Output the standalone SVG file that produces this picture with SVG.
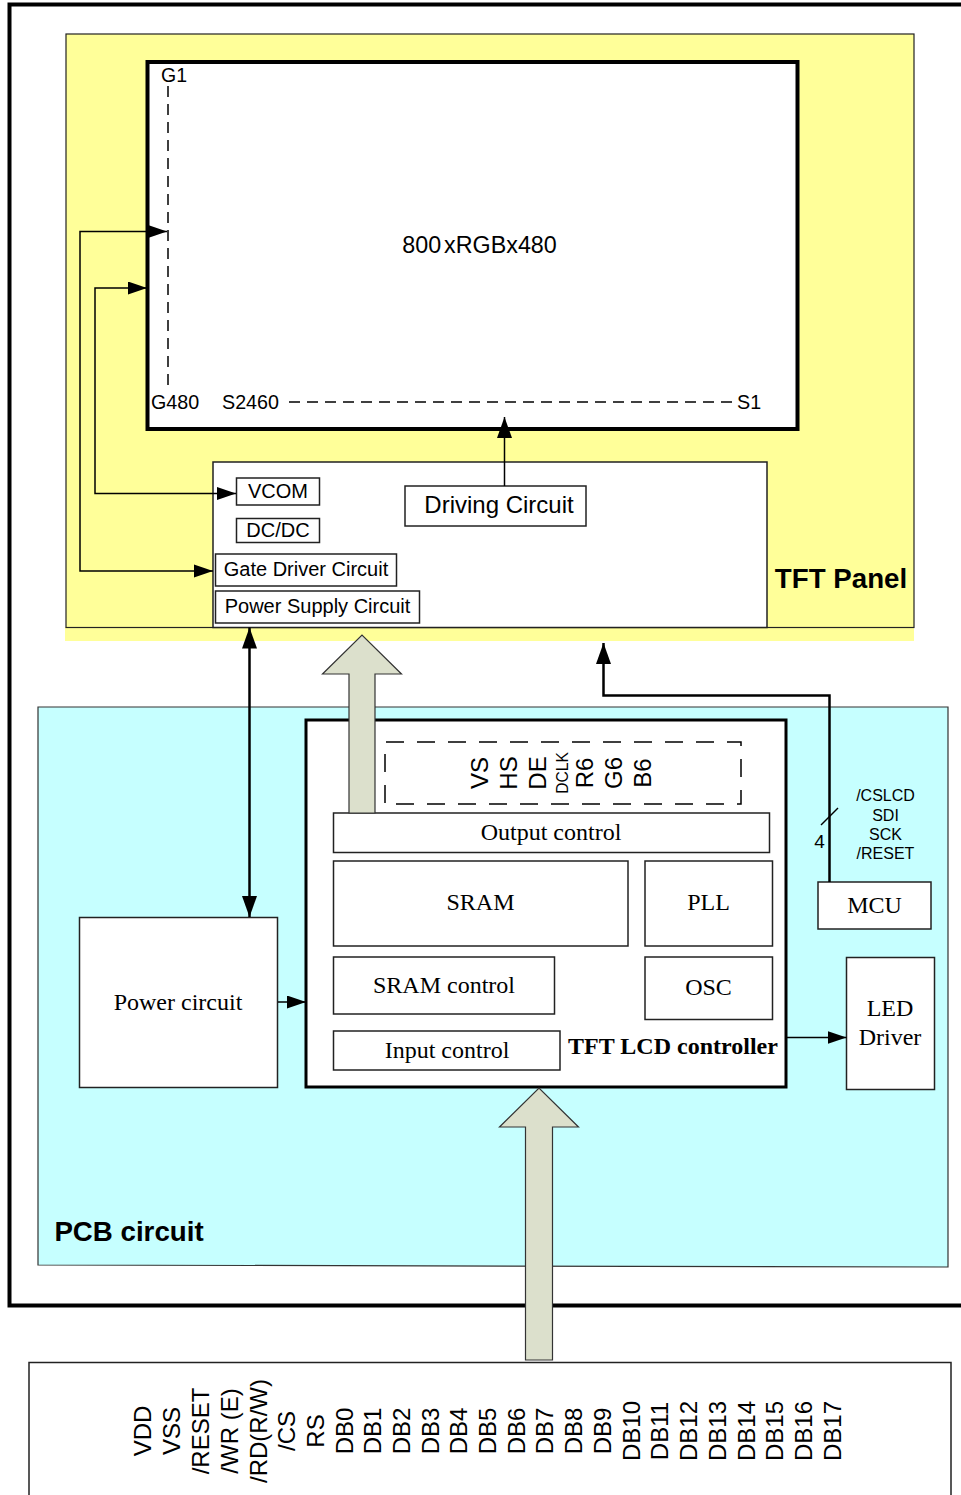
<svg xmlns="http://www.w3.org/2000/svg" width="961" height="1495" viewBox="0 0 961 1495">
<style>
.a{font-family:"Liberation Sans",Arial,sans-serif;fill:#000}
.t{font-family:"Liberation Serif","Times New Roman",serif;fill:#000;text-anchor:middle}
.m{text-anchor:middle}
.b{fill:#fff;stroke:#222;stroke-width:1.5}
.w{fill:#fff;stroke:#000;stroke-width:3}
.l{fill:none;stroke:#000;stroke-width:1.5}
.d{fill:none;stroke:#000;stroke-width:1.5;stroke-dasharray:11 7}
.big{fill:#dce0cc;stroke:#333;stroke-width:1.2}
.v{font-size:24px;text-anchor:middle}
</style>
<defs>
<marker id="ah" markerUnits="userSpaceOnUse" markerWidth="20" markerHeight="14" refX="19" refY="6.5" orient="auto-start-reverse"><path d="M0 0L19 6.5L0 13Z" fill="#000"/></marker>
<marker id="au" markerUnits="userSpaceOnUse" markerWidth="22" markerHeight="16" refX="21" refY="7.5" orient="auto-start-reverse"><path d="M0 0L21 7.5L0 15Z" fill="#000"/></marker>
</defs>
<rect id="outer" x="9.5" y="4.5" width="960" height="1301" fill="#fff" stroke="#000" stroke-width="4"/>
<g id="tft-panel">
<rect x="65" y="627" width="849" height="14" fill="#ffff99"/>
<rect x="66" y="34" width="848" height="593.500" fill="#ffff99" stroke="#222" stroke-width="1.2"/>
<text class="a" x="841" y="588" font-size="27.700" font-weight="700" text-anchor="middle">TFT Panel</text>
</g>
<g id="pcb-circuit">
<path d="M38 707H948V1267L38 1265Z" fill="#c6ffff" stroke="#333" stroke-width="1.2"/>
<text class="a" x="129" y="1241" font-size="27.700" font-weight="700" text-anchor="middle">PCB circuit</text>
</g>
<g id="display">
<rect class="w" x="147.500" y="62" width="650" height="367" style="stroke-width:4"/>
<text class="a m" x="479.500" y="253" font-size="23.300">800<tspan dx="3">xRGBx480</tspan></text>
<text class="a" x="161" y="82" font-size="19.500">G1</text>
<text class="a" x="151" y="409" font-size="19.700">G480</text>
<text class="a" x="222" y="409" font-size="19.700">S2460</text>
<text class="a" x="737" y="409" font-size="19.700">S1</text>
<path class="d" d="M168 86V387M289 402H732"/>
</g>
<g id="driver-block">
<rect class="b" x="213" y="462" width="554" height="165.500"/>
</g>
<g id="driving-circuit"><rect class="b" x="405" y="486" width="181" height="40"/><text class="a m" x="499" y="513" font-size="24">Driving Circuit</text></g>
<g id="vcom"><rect class="b" x="236.500" y="478" width="83" height="27"/><text class="a m" x="278" y="498" font-size="20">VCOM</text></g>
<g id="dcdc"><rect class="b" x="236.500" y="518.500" width="83" height="24"/><text class="a m" x="278" y="537" font-size="20">DC/DC</text></g>
<g id="gate-driver"><rect class="b" x="215.500" y="554" width="181" height="32"/><text class="a m" x="306" y="576" font-size="20">Gate Driver Circuit</text></g>
<g id="power-supply"><rect class="b" x="215.500" y="591" width="204" height="32"/><text class="a m" x="317.500" y="613" font-size="20">Power Supply Circuit</text></g>
<g id="controller">
<rect class="w" x="306" y="720" width="480" height="367"/>
<text class="t" x="673" y="1054" font-size="24" font-weight="700">TFT LCD controller</text>
</g>
<g id="signal-group">
<path d="M385 803V742H741V804H385" fill="none" stroke="#000" stroke-width="1.500" stroke-dasharray="18 13"/>
<g class="a">
<text class="v" transform="translate(488 773) rotate(-90)">VS</text>
<text class="v" transform="translate(517 773) rotate(-90)">HS</text>
<text class="v" transform="translate(546 773) rotate(-90)">DE</text>
<text font-size="15.600" text-anchor="middle" transform="translate(568 773) rotate(-90)">DCLK</text>
<text class="v" transform="translate(593 773) rotate(-90)">R6</text>
<text class="v" transform="translate(622 773) rotate(-90)">G6</text>
<text class="v" transform="translate(651 773) rotate(-90)">B6</text>
</g>
</g>
<g id="output-control"><rect class="b" x="333.500" y="813" width="436" height="39.500"/><text class="t" x="551" y="840" font-size="24">Output control</text></g>
<g id="sram"><rect class="b" x="333.500" y="861" width="294.500" height="85"/><text class="t" x="480.500" y="910" font-size="24">SRAM</text></g>
<g id="pll"><rect class="b" x="645" y="861" width="127.500" height="85"/><text class="t" x="708.500" y="910" font-size="24">PLL</text></g>
<g id="sram-control"><rect class="b" x="333.500" y="957" width="221" height="57"/><text class="t" x="444" y="993" font-size="24">SRAM control</text></g>
<g id="osc"><rect class="b" x="645" y="957" width="127.500" height="62.500"/><text class="t" x="708.500" y="995" font-size="24">OSC</text></g>
<g id="input-control"><rect class="b" x="333.500" y="1031" width="226.500" height="39"/><text class="t" x="447" y="1058" font-size="24">Input control</text></g>
<g id="power-circuit"><rect class="b" x="79.500" y="917.500" width="198" height="170"/><text class="t" x="178" y="1010" font-size="24">Power circuit</text></g>
<g id="mcu"><rect class="b" x="818" y="882" width="113" height="47"/><text class="t" x="874.500" y="913" font-size="24">MCU</text></g>
<g id="led-driver"><rect class="b" x="846.500" y="957.500" width="88" height="132"/><text class="t" x="890" y="1016" font-size="24">LED</text><text class="t" x="890" y="1045" font-size="24">Driver</text></g>
<g id="mcu-labels" class="a" font-size="16" text-anchor="middle">
<text x="885.500" y="801">/CSLCD</text><text x="885.500" y="821">SDI</text><text x="885.500" y="840">SCK</text><text x="885.500" y="859">/RESET</text>
<text x="819.500" y="848" font-size="19">4</text>
</g>
<g id="connectors">
<path class="big" d="M349 813V674H322.500L362 635L401.500 674H375V813Z"/>
<path class="big" d="M525.500 1360V1127H499.500L539 1088L578.500 1127H552.500V1360Z"/>
<path class="l" d="M213 571H80V231.500H167" marker-end="url(#ah)"/>
<path d="M194 564.500L213 571L194 577.500Z" fill="#000"/>
<path class="l" d="M236 493.500H95V288H147" marker-end="url(#ah)"/>
<path d="M217 487L236 493.500L217 500Z" fill="#000"/>
<path d="M249.500 627.500V917" fill="none" stroke="#000" stroke-width="2.500" marker-start="url(#au)" marker-end="url(#au)"/>
<path d="M829.500 882V695.500H603.500V643" fill="none" stroke="#000" stroke-width="2.500" marker-end="url(#au)"/>
<path class="l" d="M504.500 486V417" marker-end="url(#au)"/>
<path class="l" d="M821 825L838 808"/>
<path class="l" d="M278 1002H306" marker-end="url(#ah)"/>
<path class="l" d="M787 1037.500H846.500" marker-end="url(#ah)"/>
</g>
<g id="connector-block">
<path d="M29 1495V1362.500H951V1495" fill="#fff" stroke="#222" stroke-width="1.500"/>
<g class="a">
<text class="v" transform="translate(151 1431) rotate(-90)">VDD</text>
<text class="v" transform="translate(180 1431) rotate(-90)">VSS</text>
<text class="v" transform="translate(209 1431) rotate(-90)">/RESET</text>
<text class="v" transform="translate(238 1431) rotate(-90)">/WR (E)</text>
<text class="v" transform="translate(267 1431) rotate(-90)">/RD(R/W)</text>
<text class="v" transform="translate(295 1431) rotate(-90)">/CS</text>
<text class="v" transform="translate(324 1431) rotate(-90)">RS</text>
<text class="v" transform="translate(353 1431) rotate(-90)">DB0</text>
<text class="v" transform="translate(381 1431) rotate(-90)">DB1</text>
<text class="v" transform="translate(410 1431) rotate(-90)">DB2</text>
<text class="v" transform="translate(439 1431) rotate(-90)">DB3</text>
<text class="v" transform="translate(467 1431) rotate(-90)">DB4</text>
<text class="v" transform="translate(496 1431) rotate(-90)">DB5</text>
<text class="v" transform="translate(525 1431) rotate(-90)">DB6</text>
<text class="v" transform="translate(553 1431) rotate(-90)">DB7</text>
<text class="v" transform="translate(582 1431) rotate(-90)">DB8</text>
<text class="v" transform="translate(611 1431) rotate(-90)">DB9</text>
<text class="v" transform="translate(640 1431) rotate(-90)">DB10</text>
<text class="v" transform="translate(668 1431) rotate(-90)">DB11</text>
<text class="v" transform="translate(697 1431) rotate(-90)">DB12</text>
<text class="v" transform="translate(726 1431) rotate(-90)">DB13</text>
<text class="v" transform="translate(755 1431) rotate(-90)">DB14</text>
<text class="v" transform="translate(783 1431) rotate(-90)">DB15</text>
<text class="v" transform="translate(812 1431) rotate(-90)">DB16</text>
<text class="v" transform="translate(841 1431) rotate(-90)">DB17</text>
</g>
</g>
</svg>
